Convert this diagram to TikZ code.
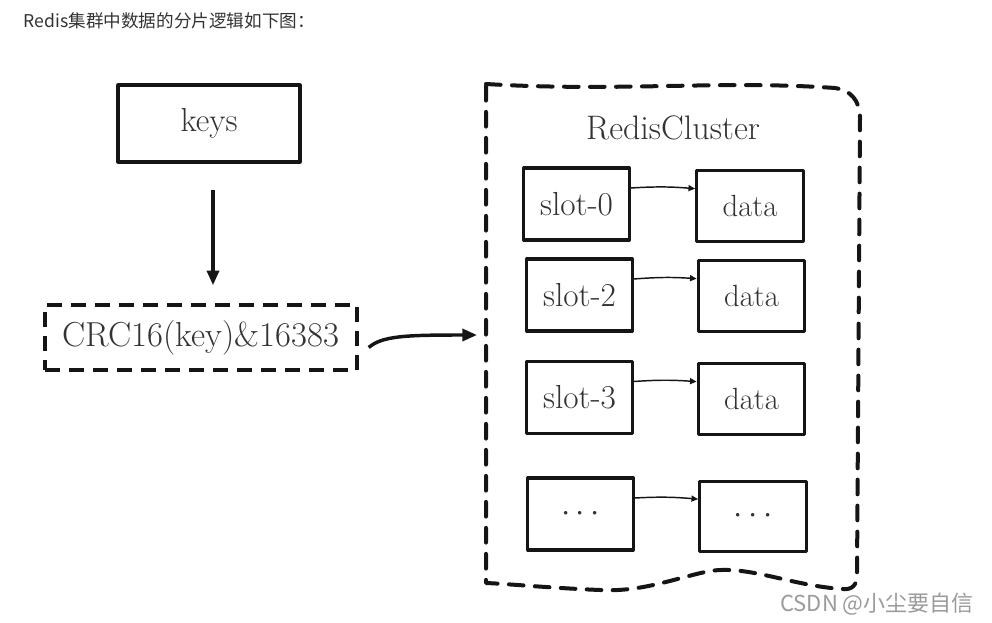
\documentclass[tikz,border=0pt]{standalone}
\usepackage{fontspec}
\newfontfamily\cjk{Noto Sans CJK SC}
\usetikzlibrary{arrows.meta, positioning, calc}
\definecolor{ink}{HTML}{151515}
\definecolor{txt}{HTML}{333333}
\definecolor{mark}{HTML}{9A9A9A}

\begin{document}
\begin{tikzpicture}[
      x=0.75pt, y=-0.75pt,
      box/.style={draw=ink, line width=2.3pt, line join=round, fill=white,
                  inner sep=0pt, text=txt, font=\fontsize{25}{28}\selectfont},
      dbox/.style={box, line width=2.6pt, dash pattern=on 11pt off 7pt},
      bigarr/.style={ink, line width=2.6pt, -{Triangle[length=11pt, width=9pt]}},
      smarr/.style={ink, line width=1.1pt, -{Triangle[length=5pt, width=4.5pt]}},
      wall/.style={ink, line width=3pt, dash pattern=on 11pt off 8.5pt,
                   line join=round, line cap=round},
    ]
    \useasboundingbox (0,0) rectangle (992,623);

    % heading and watermark
    \node[anchor=west, font=\cjk\fontsize{13.2}{15}\selectfont, text=black!80]
      (title) at (19,21) {Redis集群中数据的分片逻辑如下图：};
    \node[font=\cjk\fontsize{16.5}{18}\selectfont, text=mark]
      (wmark) at (877,604) {CSDN @小尘要自信};

    % Left: key hashing
    \node[box, minimum width=136.5pt, minimum height=57.75pt]
      (keys) at (209,123.5) {keys};
    \node[dbox, minimum width=234pt, minimum height=48.75pt,
          font=\fontsize{26}{29}\selectfont]
      (crc) at (201,337.5) {CRC16(key)\&16383};
    \draw[bigarr] ([shift={(4,26)}]keys.south) -- ([shift={(4,-18)}]keys.south |- crc.north);

    % Right: cluster with slots
    \draw[wall] (486,84) .. controls (620,92) and (720,80) .. (835,88)
      .. controls (850,90) and (860,100) .. (860,118) -- (857,575)
      .. controls (857,585) and (852,590) .. (843,589)
      .. controls (790,586) and (745,563) .. (705,572)
      .. controls (670,580) and (640,592) .. (600,590)
      .. controls (550,588) and (510,584) .. (486,583) -- cycle;
    \node[text=txt, font=\fontsize{25.5}{28}\selectfont] (cluster) at (673,128) {RedisCluster};
    \coordinate (clusterW) at (477,335);
    \draw[bigarr] ([shift={(10,10)}]crc.east) .. controls (382,336) and (405,335) .. (clusterW);

    \foreach \n/\lbl/\sx/\sy/\dx/\dy/\dlbl in {0/slot-0/576.5/204/750/206/data,
        2/slot-2/579.5/295/751.5/296/data, 3/slot-3/579.5/397.5/751.5/399/data,
        4/$\cdots$/580.5/514/753/516.5/$\cdots$} {
      \node[box, minimum width=79pt, minimum height=54pt] (slot\n) at (\sx,\sy) {\lbl};
      \node[box, minimum width=80pt, minimum height=53pt,
            font=\fontsize{23}{26}\selectfont] (data\n) at (\dx,\dy) {\dlbl};
      \draw[smarr] ([yshift=12pt]slot\n.east) to[bend left=4] ([yshift=13pt]data\n.west);
    }
    \end{tikzpicture}
\end{document}
